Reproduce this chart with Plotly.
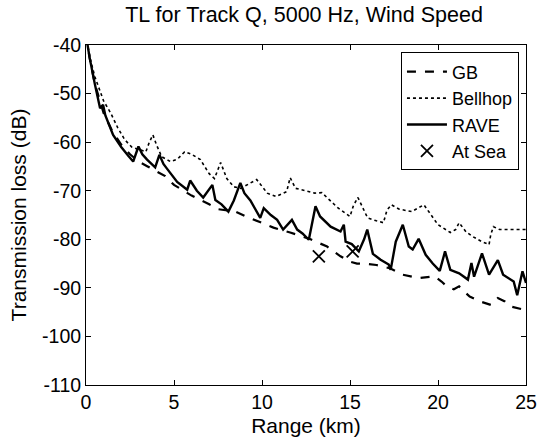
import plotly.graph_objects as go

# ---- data ----
gb_range = [0, 0.2, 0.5, 1, 1.5, 2, 2.5, 3, 3.5, 4, 4.5, 5, 6, 7, 7.5, 8.5, 9.2, 10, 10.65,
            11.6, 12.76, 13.7, 14.46, 15.0, 15.4, 16.0, 16.5, 17.3, 18.0, 18.9, 19.4, 19.8,
            20.2, 20.5, 20.9, 21.2, 21.5, 21.8, 22.4, 23.0, 23.4, 23.8, 24.1, 24.6, 25]
gb_tl = [-38, -42.5, -48, -54, -57.8, -60.5, -62.5, -64, -65, -66, -67, -68.8, -71, -72.8, -73.8,
         -74.3, -75.5, -76.6, -77.6, -78.6, -80, -81.5, -83.5, -84.6, -85, -85.1, -85.3, -86,
         -87.3, -88, -87.8, -87.6, -88.7, -89.7, -90.3, -89.7, -90.8, -91.8, -92.8, -93.5,
         -92.1, -92.8, -93.8, -94.2, -94.6]

bellhop_range = [0, 0.25, 0.5, 1, 1.4, 1.8, 2.2, 2.6, 3, 3.4, 3.6, 3.8, 4.0, 4.3, 4.8, 5.2, 5.6,
                 6.0, 6.5, 7.0, 7.3, 7.5, 7.65, 8.0, 8.4, 8.8, 9.3, 9.7, 10.3, 10.8, 11.4, 11.6,
                 11.9, 12.4, 13.0, 13.4, 14.3, 15.0, 15.2, 15.45, 16.0, 16.5, 16.9, 17.1, 17.35,
                 17.8, 18.5, 19.2, 19.6, 20.0, 20.7, 21.0, 21.2, 21.6, 22.0, 22.5, 22.9, 23.0,
                 23.15, 23.5, 24.2, 25]
bellhop_tl = [-38, -43, -46.5, -51.5, -54, -57, -59.5, -61, -61.5, -62, -60, -58.5, -60.5, -63,
              -64, -63.5, -62, -62.5, -63.6, -66.5, -67.5, -65.5, -64.2, -67.5, -69.2, -69.5,
              -68.5, -67.7, -70.5, -71.2, -70.2, -67.3, -69.5, -70, -70.5, -70.4, -73.5, -75.3,
              -73, -71.4, -75.6, -76.2, -76.6, -74, -72.9, -73.8, -74.3, -72.9, -75, -77, -78.6,
              -78, -76.6, -78.5, -79.5, -80.5, -81.1, -79, -77.4, -78, -78, -78]

rave_range = [0, 0.2, 0.5, 0.8, 0.97, 1.1, 1.54, 2.0, 2.4, 2.68, 2.98, 3.2, 3.47, 3.93, 4.17,
              4.4, 4.61, 5.18, 5.75, 5.92, 6.3, 6.66, 7.18, 7.35, 7.7, 8.09, 8.4, 8.77, 9.0,
              9.34, 9.9, 10.1, 10.5, 10.86, 11.2, 11.7, 12.0, 12.3, 12.66, 13.04, 13.3, 13.9,
              14.46, 14.65, 14.75, 15.1, 15.5, 15.8, 15.98, 16.3, 16.74, 17.2, 17.31, 17.6,
              18.0, 18.34, 18.56, 18.9, 19.3, 19.7, 20.1, 20.4, 20.7, 21.2, 21.7, 21.9, 22.05,
              22.2, 22.5, 22.9, 23.4, 23.7, 24.0, 24.3, 24.5, 24.8, 25]
rave_tl = [-38, -42.5, -48, -53, -52.3, -54.5, -58.5, -61, -62.8, -64, -60.9, -62.5, -63.6,
           -65.2, -62.6, -64.5, -65.5, -68.2, -69.8, -67.9, -70, -71.4, -68.8, -71.9, -72.8,
           -74.3, -72, -68.4, -70.5, -72, -75.6, -73.6, -75, -76, -78, -76, -78, -78.8, -80.1,
           -73.2, -75.3, -77.4, -78.4, -77, -80.5, -81, -82.5, -80, -78, -83, -84.2, -85.2,
           -86.3, -80.5, -77, -81.5, -82.1, -79.9, -83.2, -85, -86.5, -82.5, -86.3, -87, -88.3,
           -84.9, -87.7, -86, -82.9, -87.3, -84.3, -87.3, -88, -88.7, -91.5, -86.6, -89]

sea_range = [13.23, 15.15]
sea_tl = [-83.5, -82.5]

x_ticks = [0, 5, 10, 15, 20, 25]
x_tick_labels = ["0", "5", "10", "15", "20", "25"]
y_ticks = [-110, -100, -90, -80, -70, -60, -50, -40]
y_tick_labels = ["-110", "-100", "-90", "-80", "-70", "-60", "-50", "-40"]

FONT = "Liberation Sans, Arial, Helvetica, sans-serif"

fig = go.Figure()
fig.add_trace(go.Scatter(x=gb_range, y=gb_tl, mode="lines", name="GB",
                         line=dict(color="black", width=2.2, dash="dash")))
fig.add_trace(go.Scatter(x=bellhop_range, y=bellhop_tl, mode="lines", name="Bellhop",
                         line=dict(color="black", width=1.6, dash="dot")))
fig.add_trace(go.Scatter(x=rave_range, y=rave_tl, mode="lines", name="RAVE",
                         line=dict(color="black", width=2.4)))
fig.add_trace(go.Scatter(x=sea_range, y=sea_tl, mode="markers", name="At Sea",
                         marker=dict(symbol="x-thin", size=12, color="black",
                                     line=dict(color="black", width=1.8))))

axis_common = dict(showline=True, linecolor="black", linewidth=1, mirror="allticks",
                   ticks="inside", ticklen=5, tickcolor="black", showgrid=False,
                   zeroline=False, automargin=False,
                   tickfont=dict(family=FONT, size=19.5, color="black"))

fig.update_xaxes(range=[0, 25], tickvals=x_ticks, ticktext=x_tick_labels,
                 title=dict(text="Range (km)", font=dict(family=FONT, size=21, color="black")),
                 **axis_common)
fig.update_yaxes(range=[-110, -40], tickvals=y_ticks, ticktext=y_tick_labels,
                 title=dict(text="Transmission loss (dB)", standoff=9,
                            font=dict(family=FONT, size=21, color="black")),
                 **axis_common)

fig.update_layout(
    template="none",
    width=542, height=437,
    margin=dict(l=86, r=16, t=45, b=52, autoexpand=False),
    paper_bgcolor="white", plot_bgcolor="white",
    title=dict(text="TL for Track Q, 5000 Hz, Wind Speed", x=0.561, xanchor="center",
               y=0.967, yanchor="middle", font=dict(family=FONT, size=21.5, color="black")),
    legend=dict(x=0.984, y=0.978, xanchor="right", yanchor="top",
                bgcolor="white", bordercolor="black", borderwidth=1,
                font=dict(family=FONT, size=18, color="black"),
                tracegroupgap=0, itemwidth=40),
    showlegend=True,
)

fig.write_html("out.html", config={"displayModeBar": False},
               post_script="document.body.style.margin='0';document.body.style.overflow='hidden';")
